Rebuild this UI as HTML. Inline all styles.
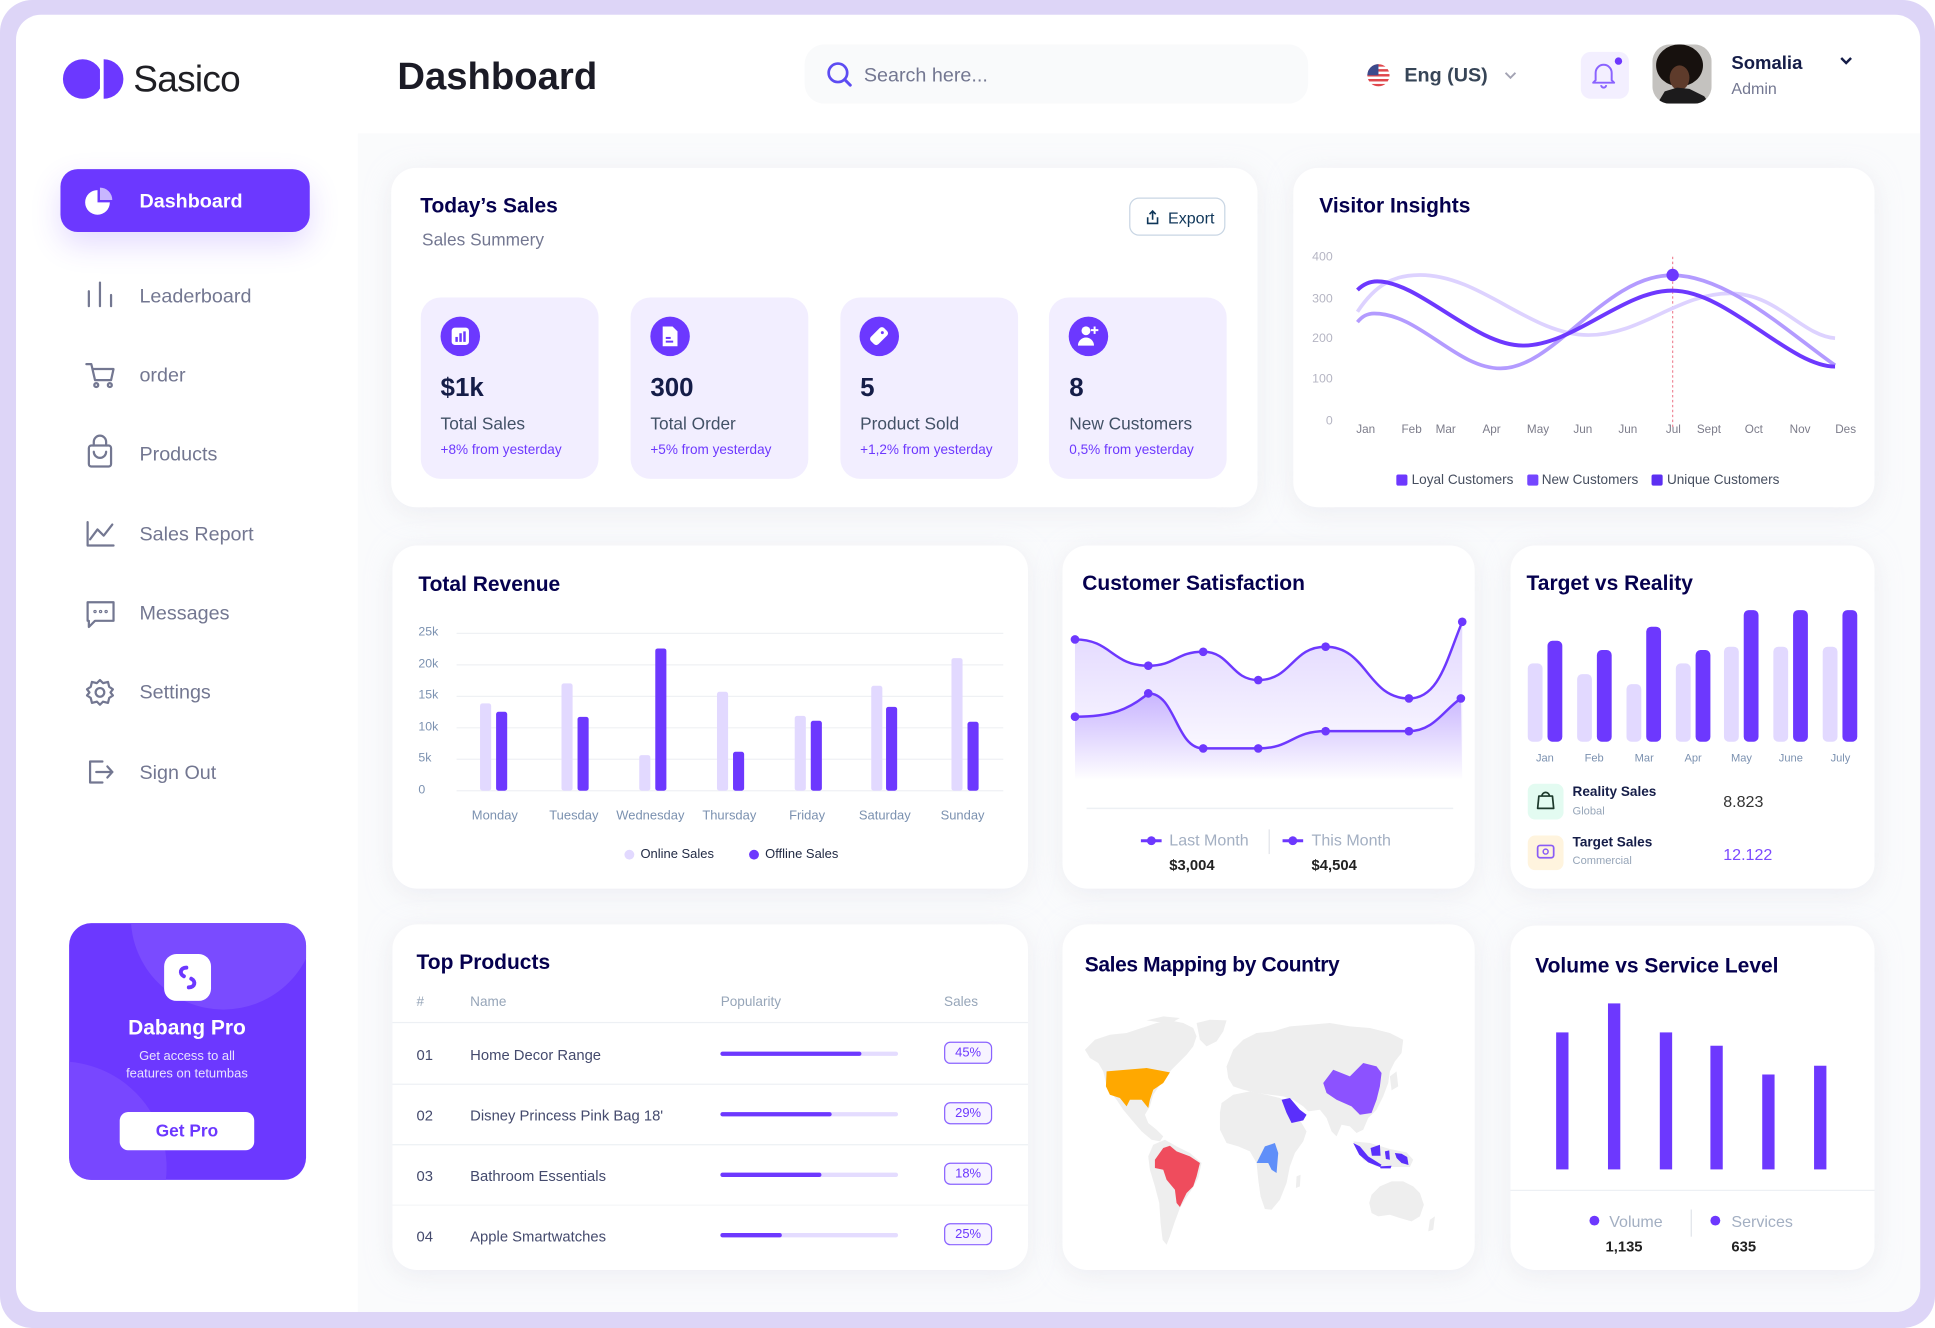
<!DOCTYPE html>
<html><head><meta charset="utf-8">
<style>
html,body{margin:0;padding:0;background:#fff;width:1935px;height:1328px;overflow:hidden}
#s{position:absolute;left:0;top:0;width:1568px;height:1076px;transform:scale(1.234056,1.234201);transform-origin:0 0;font-family:"Liberation Sans",sans-serif}
.t{position:absolute;white-space:nowrap;line-height:1}
.c{transform:translateX(-50%)}
.card{position:absolute;background:#fff;border-radius:20px;box-shadow:0 4px 20px rgba(225,225,235,.55)}
.h{font-size:17px;font-weight:bold;color:#05004E}
.nav{font-size:16px;color:#737791}
.mc{position:absolute;background:#f2eeff;border-radius:16px;width:144px;height:147px;top:240.5px}
.v{font-size:21px;font-weight:bold;color:#151D48}
.l{font-size:14px;color:#425166}
.sb{font-size:11px;color:#6d38fe}
.yl{font-size:10px;color:#b5b5c3;text-align:right;width:30px}
.xl{font-size:9.5px;color:#7c7c8a}
.rl{font-size:10px;color:#7b91b0}
.rx{font-size:10.5px;color:#7b91b0}
.pr{font-size:12px;color:#444a6d}
.ph{font-size:11px;color:#96a5b8}
.badge{position:absolute;left:765px;width:37px;height:16px;border:1.5px solid #8a63ff;border-radius:5px;background:#f7f4ff;color:#6d38fe;font-size:10.5px;line-height:16px;text-align:center}
</style></head><body>
<div id="s">
<!-- frame -->
<div style="position:absolute;left:0;top:0;width:1568px;height:1076px;background:#ddd5f7;border-radius:26px"></div>
<div style="position:absolute;left:13px;top:12px;width:1543px;height:1051px;background:#fff;border-radius:20px;overflow:hidden">
  <div style="position:absolute;left:277px;top:96px;width:1266px;height:955px;background:#fafbfc"></div>
</div>

<!-- logo -->
<svg style="position:absolute;left:0;top:0" width="1568" height="1076">
  <defs><clipPath id="lc"><rect x="40" y="40" width="41" height="50"/></clipPath></defs>
  <circle cx="67" cy="64" r="16" fill="#6c38ff" clip-path="url(#lc)"/>
  <path d="M84,48 A16,16 0 0 1 84,80 Z" fill="#6c38ff"/>
</svg>
<div class="t" style="left:108px;top:49.5px;font-size:30px;color:#1f1f24;letter-spacing:-0.6px">Sasico</div>
<div class="t" style="left:322px;top:45.5px;font-size:31px;font-weight:bold;color:#1b1b26">Dashboard</div>

<!-- search -->
<div style="position:absolute;left:652px;top:36px;width:408px;height:48px;background:#f9fafb;border-radius:16px"></div>
<svg style="position:absolute;left:668px;top:49px" width="26" height="26"><circle cx="11" cy="10" r="7.5" fill="none" stroke="#5d4cf2" stroke-width="2.2"/><line x1="16.5" y1="15.5" x2="21" y2="20" stroke="#5d4cf2" stroke-width="2.4" stroke-linecap="round"/></svg>
<div class="t" style="left:700px;top:53.5px;font-size:16px;color:#737791">Search here...</div>

<!-- lang -->
<svg style="position:absolute;left:1107px;top:51px" width="20" height="20">
  <defs><clipPath id="fc"><circle cx="10" cy="10" r="9"/></clipPath></defs>
  <g clip-path="url(#fc)">
    <rect x="0" y="0" width="20" height="20" fill="#fff"/>
    <rect x="0" y="1" width="20" height="2" fill="#e0474c"/><rect x="0" y="5" width="20" height="2" fill="#e0474c"/>
    <rect x="0" y="9" width="20" height="2" fill="#e0474c"/><rect x="0" y="13" width="20" height="2" fill="#e0474c"/>
    <rect x="0" y="17" width="20" height="2" fill="#e0474c"/>
    <rect x="0" y="0" width="10" height="10" fill="#3c4a8c"/>
  </g>
</svg>
<div class="t" style="left:1138px;top:53.5px;font-size:16px;font-weight:bold;color:#374557">Eng (US)</div>
<svg style="position:absolute;left:1218px;top:56px" width="12" height="10"><path d="M2,3 L6,7 L10,3" fill="none" stroke="#a3a3b3" stroke-width="1.5"/></svg>

<!-- bell -->
<div style="position:absolute;left:1281px;top:42px;width:39px;height:38px;background:#f3efff;border-radius:8px"></div>
<svg style="position:absolute;left:1288px;top:49px" width="24" height="24"><path d="M5,16 L5,10 A6.5,6.5 0 0 1 18,10 L18,16 L20,18 L3,18 Z" fill="none" stroke="#8a63ff" stroke-width="1.6" stroke-linejoin="round"/><path d="M9.5,20 A2,2 0 0 0 13.5,20" fill="none" stroke="#8a63ff" stroke-width="1.6"/></svg>
<svg style="position:absolute;left:1307px;top:45px" width="9" height="9"><circle cx="4.5" cy="4.5" r="3" fill="#6d38fe"/></svg>

<!-- avatar -->
<svg style="position:absolute;left:1339px;top:36px" width="48" height="48">
  <defs><clipPath id="ac"><rect x="0" y="0" width="48" height="48" rx="14"/></clipPath></defs>
  <g clip-path="url(#ac)">
    <rect width="48" height="48" fill="#c4c2bf"/>
    <ellipse cx="22" cy="17" rx="19" ry="17" fill="#17110e"/>
    <ellipse cx="22" cy="27" rx="8" ry="10" fill="#5e3b2b"/>
    <path d="M4,48 L10,38 L20,35 L30,36 L42,42 L46,48 Z" fill="#1c1b1c"/>
  </g>
</svg>
<div class="t" style="left:1403px;top:43.5px;font-size:15px;font-weight:bold;color:#151d48">Somalia</div>
<div class="t" style="left:1403px;top:64.7px;font-size:13px;color:#737791">Admin</div>
<svg style="position:absolute;left:1490px;top:44px" width="12" height="10"><path d="M2,3 L6,7 L10,3" fill="none" stroke="#151d48" stroke-width="2"/></svg>

<!-- sidebar -->
<div style="position:absolute;left:49px;top:137px;width:202px;height:51px;background:#6c38ff;border-radius:14px;box-shadow:0 10px 24px rgba(108,56,255,.18)"></div>
<svg style="position:absolute;left:66px;top:149px" width="28" height="28"><path d="M13,5 A10,10 0 1 0 23,15 L13,15 Z" fill="#fff"/><path d="M15,3 A10,10 0 0 1 25,13 L15,13 Z" fill="#c8b6ff"/></svg>
<div class="t" style="left:113px;top:155.5px;font-size:16px;font-weight:bold;color:#fff">Dashboard</div>

<svg style="position:absolute;left:0;top:0" width="290" height="700" fill="none" stroke="#737791" stroke-width="1.8" stroke-linecap="round" stroke-linejoin="round">
  <line x1="72" y1="236" x2="72" y2="248"/><line x1="81" y1="229" x2="81" y2="248"/><line x1="90" y1="239" x2="90" y2="248"/>
  <path d="M70,295 L74,295 L77,308 L90,308 L92,299 L75,299"/><circle cx="78" cy="312" r="1.6"/><circle cx="89" cy="312" r="1.6"/>
  <rect x="72" y="361" width="18" height="17" rx="2"/><path d="M76,361 L76,358 A5,5 0 0 1 86,358 L86,361"/><path d="M76,366 A5,5 0 0 0 86,366"/>
  <path d="M71,423 L71,442 L92,442"/><path d="M73,437 L79,429 L84,434 L91,425"/>
  <path d="M71,488 L92,488 L92,503 L77,503 L72,508 L72,503 L71,503 Z"/><circle cx="77" cy="495.5" r="0.5"/><circle cx="81.5" cy="495.5" r="0.5"/><circle cx="86" cy="495.5" r="0.5"/>
  <circle cx="81" cy="561" r="3.5"/><path d="M81,551 L83.5,553.5 L87.5,552.5 L88.5,556.5 L91.5,558.5 L89.5,561 L91.5,563.5 L88.5,565.5 L87.5,569.5 L83.5,568.5 L81,571 L78.5,568.5 L74.5,569.5 L73.5,565.5 L70.5,563.5 L72.5,561 L70.5,558.5 L73.5,556.5 L74.5,552.5 L78.5,553.5 Z"/>
  <path d="M83,617 L73,617 L73,634 L83,634"/><path d="M78,625.5 L91,625.5"/><path d="M87,621 L91,625.5 L87,630"/>
</svg>
<div class="t nav" style="left:113px;top:232.5px">Leaderboard</div>
<div class="t nav" style="left:113px;top:296.5px">order</div>
<div class="t nav" style="left:113px;top:361px">Products</div>
<div class="t nav" style="left:113px;top:425.5px">Sales Report</div>
<div class="t nav" style="left:113px;top:489.5px">Messages</div>
<div class="t nav" style="left:113px;top:554px">Settings</div>
<div class="t nav" style="left:113px;top:618.5px">Sign Out</div>

<!-- Dabang Pro -->
<div style="position:absolute;left:55.5px;top:748px;width:192px;height:208px;background:#6c38ff;border-radius:18px;overflow:hidden">
  <div style="position:absolute;left:50px;top:-80px;width:150px;height:150px;border-radius:50%;background:#7a4bff"></div>
  <div style="position:absolute;left:-93px;top:112px;width:172px;height:172px;border-radius:50%;background:#7847ff"></div>
  <div style="position:absolute;left:77px;top:25px;width:38px;height:38px;background:#fff;border-radius:10px"></div>
  <svg style="position:absolute;left:77px;top:25px" width="38" height="38"><path d="M18,11 C13,11 12,16 16,18" fill="none" stroke="#6c38ff" stroke-width="3.2" stroke-linecap="round"/><path d="M20,27 C25,27 26,22 22,20" fill="none" stroke="#6c38ff" stroke-width="3.2" stroke-linecap="round"/></svg>
  <div class="t" style="left:0;width:192px;text-align:center;top:75.5px;font-size:17px;font-weight:bold;color:#fff">Dabang Pro</div>
  <div class="t" style="left:0;width:192px;text-align:center;top:103px;font-size:10.5px;color:#e9e2ff">Get access to all</div>
  <div class="t" style="left:0;width:192px;text-align:center;top:116.5px;font-size:10.5px;color:#e9e2ff">features on tetumbas</div>
  <div style="position:absolute;left:41.5px;top:152.5px;width:109px;height:31px;background:#fff;border-radius:7px"></div>
  <div class="t" style="left:41.5px;width:109px;text-align:center;top:161px;font-size:14px;font-weight:bold;color:#6c38ff">Get Pro</div>
</div>

<!-- cards -->
<div class="card" style="left:317px;top:136px;width:702px;height:275px"></div>
<div class="card" style="left:1048px;top:136px;width:471px;height:275px"></div>
<div class="card" style="left:318px;top:442px;width:515px;height:278px"></div>
<div class="card" style="left:861px;top:442px;width:334px;height:278px"></div>
<div class="card" style="left:1224px;top:442px;width:295px;height:278px"></div>
<div class="card" style="left:318px;top:749px;width:515px;height:280px"></div>
<div class="card" style="left:861px;top:749px;width:334px;height:280px"></div>
<div class="card" style="left:1224px;top:750px;width:295px;height:279px"></div>

<!-- Today's sales -->
<div class="t h" style="left:340.5px;top:157.6px">Today’s Sales</div>
<div class="t" style="left:342px;top:186.7px;font-size:14px;color:#737791">Sales Summery</div>
<div style="position:absolute;left:915px;top:160px;width:78px;height:31px;border:1px solid #c9d6e4;border-radius:8px;box-sizing:border-box"></div>
<svg style="position:absolute;left:927px;top:169px" width="14" height="14"><path d="M3,7 L3,12 L11,12 L11,7" fill="none" stroke="#0f3659" stroke-width="1.3"/><path d="M7,9 L7,2 M4.5,4.5 L7,2 L9.5,4.5" fill="none" stroke="#0f3659" stroke-width="1.3"/></svg>
<div class="t" style="left:946.5px;top:169.5px;font-size:13px;color:#0f3659">Export</div>

<div class="mc" style="left:340.5px"></div>
<div class="mc" style="left:510.5px"></div>
<div class="mc" style="left:680.5px"></div>
<div class="mc" style="left:850px"></div>
<svg style="position:absolute;left:0;top:0" width="1568" height="420">
  <circle cx="373" cy="272.5" r="16" fill="#6c38ff"/><circle cx="543" cy="272.5" r="16" fill="#6c38ff"/>
  <circle cx="712.5" cy="272.5" r="16" fill="#6c38ff"/><circle cx="882" cy="272.5" r="16" fill="#6c38ff"/>
  <rect x="366" y="265.5" width="14" height="14" rx="2.5" fill="#fff"/>
  <rect x="369" y="273" width="2" height="4" fill="#6c38ff"/><rect x="372.2" y="270" width="2" height="7" fill="#6c38ff"/><rect x="375.4" y="268.5" width="2" height="8.5" fill="#6c38ff"/>
  <path d="M537,264.5 L545,264.5 L549,268.5 L549,280.5 L537,280.5 Z" fill="#fff"/>
  <rect x="539.5" y="273" width="4" height="1.6" fill="#6c38ff"/><rect x="539.5" y="276" width="6" height="1.6" fill="#6c38ff"/>
  <rect x="708" y="265" width="8.5" height="15" rx="2.5" fill="#fff" transform="rotate(45 712.5 272.5)"/><circle cx="715" cy="269.5" r="1.2" fill="#6c38ff"/>
  <circle cx="880" cy="268" r="3.6" fill="#fff"/><path d="M873.5,280 A6.5,6.5 0 0 1 886.5,280 Z" fill="#fff"/>
  <path d="M887,264.5 L887,270.5 M884,267.5 L890,267.5" stroke="#fff" stroke-width="1.6"/>
</svg>
<div class="t v" style="left:357px;top:304px">$1k</div>
<div class="t v" style="left:527px;top:304px">300</div>
<div class="t v" style="left:697px;top:304px">5</div>
<div class="t v" style="left:866.5px;top:304px">8</div>
<div class="t l" style="left:357px;top:336.2px">Total Sales</div>
<div class="t l" style="left:527px;top:336.2px">Total Order</div>
<div class="t l" style="left:697px;top:336.2px">Product Sold</div>
<div class="t l" style="left:866.5px;top:336.2px">New Customers</div>
<div class="t sb" style="left:357px;top:359.8px">+8% from yesterday</div>
<div class="t sb" style="left:527px;top:359.8px">+5% from yesterday</div>
<div class="t sb" style="left:697px;top:359.8px">+1,2% from yesterday</div>
<div class="t sb" style="left:866.5px;top:359.8px">0,5% from yesterday</div>

<!-- Visitor insights -->
<div class="t h" style="left:1069px;top:157.8px">Visitor Insights</div>
<div class="t yl" style="left:1050px;top:204.3px">400</div>
<div class="t yl" style="left:1050px;top:237.6px">300</div>
<div class="t yl" style="left:1050px;top:269.7px">200</div>
<div class="t yl" style="left:1050px;top:303.4px">100</div>
<div class="t yl" style="left:1050px;top:336.7px">0</div>
<div class="t xl c" style="left:1106.7px;top:344px">Jan</div>
<div class="t xl c" style="left:1143.9px;top:344px">Feb</div>
<div class="t xl c" style="left:1171.5px;top:344px">Mar</div>
<div class="t xl c" style="left:1208.7px;top:344px">Apr</div>
<div class="t xl c" style="left:1246.3px;top:344px">May</div>
<div class="t xl c" style="left:1282.6px;top:344px">Jun</div>
<div class="t xl c" style="left:1319.1px;top:344px">Jun</div>
<div class="t xl c" style="left:1356px;top:344px">Jul</div>
<div class="t xl c" style="left:1384.8px;top:344px">Sept</div>
<div class="t xl c" style="left:1421.2px;top:344px">Oct</div>
<div class="t xl c" style="left:1458.7px;top:344px">Nov</div>
<div class="t xl c" style="left:1495.6px;top:344px">Des</div>
<div class="t" style="left:1143.9px;top:383.5px;font-size:11px;color:#464e5f">Loyal Customers</div>
<div class="t" style="left:1249.3px;top:383.5px;font-size:11px;color:#464e5f">New Customers</div>
<div class="t" style="left:1350.8px;top:383.5px;font-size:11px;color:#464e5f">Unique Customers</div>

<!-- Total revenue -->
<div class="t h" style="left:339px;top:465px">Total Revenue</div>
<div class="t rl" style="left:339px;top:508px">25k</div>
<div class="t rl" style="left:339px;top:533.5px">20k</div>
<div class="t rl" style="left:339px;top:559px">15k</div>
<div class="t rl" style="left:339px;top:584.5px">10k</div>
<div class="t rl" style="left:339px;top:610px">5k</div>
<div class="t rl" style="left:339px;top:635.5px">0</div>
<div class="t rx c" style="left:401px;top:655.5px">Monday</div>
<div class="t rx c" style="left:465px;top:655.5px">Tuesday</div>
<div class="t rx c" style="left:527px;top:655.5px">Wednesday</div>
<div class="t rx c" style="left:591px;top:655.5px">Thursday</div>
<div class="t rx c" style="left:654px;top:655.5px">Friday</div>
<div class="t rx c" style="left:717px;top:655.5px">Saturday</div>
<div class="t rx c" style="left:780px;top:655.5px">Sunday</div>
<div class="t" style="left:519px;top:687.2px;font-size:10.5px;color:#222b45">Online Sales</div>
<div class="t" style="left:620px;top:687.2px;font-size:10.5px;color:#222b45">Offline Sales</div>

<!-- Customer satisfaction -->
<div class="t h" style="left:877px;top:464px">Customer Satisfaction</div>
<div class="t" style="left:947.5px;top:674.2px;font-size:13px;color:#a3afc2">Last Month</div>
<div class="t" style="left:1062.8px;top:674.2px;font-size:13px;color:#a3afc2">This Month</div>
<div class="t" style="left:947.5px;top:694.8px;font-size:12px;font-weight:bold;color:#222">$3,004</div>
<div class="t" style="left:1062.8px;top:694.8px;font-size:12px;font-weight:bold;color:#222">$4,504</div>

<!-- Target vs reality -->
<div class="t h" style="left:1237px;top:464px">Target vs Reality</div>
<div class="t c" style="left:1251.9px;top:610px;font-size:9px;color:#7b91b0">Jan</div>
<div class="t c" style="left:1291.8px;top:610px;font-size:9px;color:#7b91b0">Feb</div>
<div class="t c" style="left:1332.4px;top:610px;font-size:9px;color:#7b91b0">Mar</div>
<div class="t c" style="left:1372px;top:610px;font-size:9px;color:#7b91b0">Apr</div>
<div class="t c" style="left:1411.2px;top:610px;font-size:9px;color:#7b91b0">May</div>
<div class="t c" style="left:1451.2px;top:610px;font-size:9px;color:#7b91b0">June</div>
<div class="t c" style="left:1491.4px;top:610px;font-size:9px;color:#7b91b0">July</div>
<div style="position:absolute;left:1237.5px;top:635.3px;width:29px;height:28.5px;background:#e3fbf1;border-radius:6px"></div>
<div style="position:absolute;left:1237.5px;top:676.6px;width:29px;height:28px;background:#fff4de;border-radius:6px"></div>
<svg style="position:absolute;left:1237.5px;top:635.3px" width="29" height="70">
  <path d="M9,10 L20,10 L21,20 L8,20 Z" fill="none" stroke="#1d3a2c" stroke-width="1.4" stroke-linejoin="round"/><path d="M11.5,10 A3,3 0 0 1 17.5,10" fill="none" stroke="#1d3a2c" stroke-width="1.4"/>
  <rect x="8" y="50" width="13" height="10" rx="2" fill="none" stroke="#8a5cf6" stroke-width="1.4"/><circle cx="14.5" cy="55" r="2" fill="none" stroke="#8a5cf6" stroke-width="1.2"/>
</svg>
<div class="t" style="left:1274.3px;top:636.6px;font-size:11px;font-weight:bold;color:#151d48">Reality Sales</div>
<div class="t" style="left:1274.3px;top:652.5px;font-size:9px;color:#96a5b8">Global</div>
<div class="t" style="left:1396.4px;top:642.8px;font-size:13px;color:#333">8.823</div>
<div class="t" style="left:1274.3px;top:677.6px;font-size:11px;font-weight:bold;color:#151d48">Target Sales</div>
<div class="t" style="left:1274.3px;top:693px;font-size:9px;color:#96a5b8">Commercial</div>
<div class="t" style="left:1396.4px;top:685.5px;font-size:13px;color:#7b49ff">12.122</div>

<!-- Top products -->
<div class="t h" style="left:337.5px;top:771px">Top Products</div>
<div class="t ph" style="left:337.5px;top:807.3px">#</div>
<div class="t ph" style="left:381px;top:807.3px">Name</div>
<div class="t ph" style="left:584px;top:807.3px">Popularity</div>
<div class="t ph" style="left:765px;top:807.3px">Sales</div>
<div style="position:absolute;left:318px;top:828px;width:515px;height:1.2px;background:#edf0f4"></div>
<div style="position:absolute;left:318px;top:877.5px;width:515px;height:1.2px;background:#edf0f4"></div>
<div style="position:absolute;left:318px;top:926.5px;width:515px;height:1.2px;background:#edf0f4"></div>
<div style="position:absolute;left:318px;top:976px;width:515px;height:1px;background:#f5f6f8"></div>
<div class="t pr" style="left:337.5px;top:848.6px">01</div>
<div class="t pr" style="left:337.5px;top:897.8px">02</div>
<div class="t pr" style="left:337.5px;top:947px">03</div>
<div class="t pr" style="left:337.5px;top:995.8px">04</div>
<div class="t pr" style="left:381px;top:848.6px">Home Decor Range</div>
<div class="t pr" style="left:381px;top:897.8px">Disney Princess Pink Bag 18'</div>
<div class="t pr" style="left:381px;top:947px">Bathroom Essentials</div>
<div class="t pr" style="left:381px;top:995.8px">Apple Smartwatches</div>
<div class="badge" style="top:843.5px">45%</div>
<div class="badge" style="top:892.7px">29%</div>
<div class="badge" style="top:942px">18%</div>
<div class="badge" style="top:991px">25%</div>

<!-- Map -->
<div class="t h" style="left:879px;top:773px;letter-spacing:-0.3px">Sales Mapping by Country</div>
<svg style="position:absolute;left:867px;top:810.3px" width="324.1" height="218.8" viewBox="0 0 1200 810">
 <g fill="#eeeeee">
  <path d="M45,150 L75,120 L120,105 L170,100 L215,85 L260,70 L300,62 L340,70 L370,85 L380,110 L370,140 L350,165 L330,185 L305,210 L290,230 L270,255 L250,285 L240,320 L225,345 L235,370 L260,390 L280,410 L270,425 L245,420 L215,395 L185,360 L160,330 L140,300 L120,275 L108,250 L100,215 L85,190 L60,175 Z"/>
  <path d="M380,70 L420,60 L470,62 L460,95 L440,125 L410,140 L390,120 Z"/>
  <path d="M230,62 L280,50 L330,55 L300,72 Z"/>
  <path d="M250,435 L285,420 L320,440 L360,460 L395,490 L385,535 L365,570 L345,600 L330,625 L315,665 L300,710 L290,735 L278,720 L272,670 L268,610 L255,560 L240,510 L235,470 Z"/>
  <path d="M470,200 L490,150 L520,120 L560,100 L610,95 L660,80 L720,75 L780,70 L840,80 L900,85 L960,100 L1000,120 L995,160 L975,185 L960,215 L955,250 L940,290 L920,330 L895,355 L880,390 L860,400 L840,380 L815,375 L800,410 L785,395 L770,355 L750,330 L715,335 L700,320 L670,300 L640,290 L600,285 L560,280 L520,270 L490,260 L475,235 Z"/>
  <path d="M455,310 L490,285 L540,275 L590,285 L630,295 L665,320 L695,370 L710,395 L700,425 L675,460 L660,500 L650,550 L630,600 L605,630 L585,628 L572,590 L565,540 L560,490 L540,455 L505,440 L470,430 L450,390 L450,340 Z"/>
  <path d="M680,530 L692,525 L690,560 L678,565 Z"/>
  <path d="M905,585 L930,560 L965,545 L1000,545 L1030,560 L1050,580 L1062,615 L1050,650 L1025,665 L990,655 L960,645 L925,650 L905,640 L898,610 Z"/>
  <path d="M1080,660 L1095,650 L1090,690 L1075,695 Z"/>
  <path d="M850,425 L900,430 L960,448 L1010,458 L1030,480 L1020,502 L970,502 L920,500 L880,480 Z"/>
  <path d="M960,230 L980,215 L985,260 L965,272 Z"/>
 </g>
 <path fill="#ffa800" d="M110,215 L230,205 L300,218 L280,250 L250,270 L240,300 L235,325 L215,300 L180,300 L170,320 L150,295 L120,285 L108,260 Z"/>
 <path fill="#ef4c5d" d="M255,480 L280,445 L300,438 L320,455 L360,470 L390,490 L380,530 L370,560 L350,580 L340,600 L330,622 L320,610 L315,570 L290,540 L280,510 L255,505 Z"/>
 <path fill="#5f8ff9" d="M570,470 L585,440 L615,430 L625,460 L620,520 L605,510 L595,490 L560,490 Z"/>
 <path fill="#5a2ffb" d="M635,300 L660,295 L690,330 L710,345 L700,362 L665,370 L650,340 Z"/>
 <path fill="#8c52ff" d="M760,250 L790,210 L840,230 L880,190 L920,200 L935,220 L930,260 L920,300 L905,340 L870,345 L845,320 L800,300 L770,280 Z"/>
 <g fill="#5a2ffb">
  <path d="M850,430 L870,440 L895,470 L935,495 L930,502 L895,488 L868,465 Z"/>
  <path d="M902,445 L930,435 L932,468 L906,468 Z"/>
  <path d="M945,455 L958,452 L960,480 L948,478 Z"/>
  <path d="M975,460 L995,462 L1012,472 L1016,496 L995,490 L980,475 Z"/>
  <path d="M930,500 L965,498 L962,506 L932,506 Z"/>
 </g>
</svg>

<!-- Volume -->
<div class="t h" style="left:1244px;top:774px">Volume vs Service Level</div>
<div style="position:absolute;left:1224px;top:963.5px;width:295px;height:1.2px;background:#edf0f4"></div>
<div style="position:absolute;left:1370px;top:980px;width:1px;height:22px;background:#e1e4ea"></div>
<div class="t" style="left:1304px;top:982.5px;font-size:13px;color:#a3afc2">Volume</div>
<div class="t" style="left:1403px;top:982.5px;font-size:13px;color:#a3afc2">Services</div>
<div class="t c" style="left:1316px;top:1003.5px;font-size:12px;font-weight:bold;color:#222">1,135</div>
<div class="t c" style="left:1413px;top:1003.5px;font-size:12px;font-weight:bold;color:#222">635</div>

<!-- charts overlay -->
<svg style="position:absolute;left:0;top:0" width="1568" height="1076">
 <defs>
  <linearGradient id="gU" gradientUnits="userSpaceOnUse" x1="0" y1="505" x2="0" y2="632"><stop offset="0" stop-color="#6d38fe" stop-opacity="0.2"/><stop offset="1" stop-color="#6d38fe" stop-opacity="0"/></linearGradient>
  <linearGradient id="gL" gradientUnits="userSpaceOnUse" x1="0" y1="560" x2="0" y2="632"><stop offset="0" stop-color="#6d38fe" stop-opacity="0.3"/><stop offset="1" stop-color="#6d38fe" stop-opacity="0"/></linearGradient>
 </defs>
 <line x1="1355.4" y1="208" x2="1355.4" y2="346" stroke="#f08a9a" stroke-width="1" stroke-dasharray="2,2"/>
 <path d="M1100,252.6 C1115,230 1130,222.8 1150.7,222.8 C1200,222.8 1240,271.5 1287,271.5 C1330,271.5 1360,237.7 1401.8,237.7 C1440,237.7 1460,272 1487,274" fill="none" stroke="#ddd2ff" stroke-width="3"/>
 <path d="M1100,261 C1104,256 1108,254 1113.5,254 C1150,254 1180,298.5 1216,298.5 C1260,298.5 1300,223 1355,223 C1400,223 1450,270 1487,296" fill="none" stroke="#b39bff" stroke-width="3"/>
 <path d="M1100,235 C1105,230 1110,228 1116,228 C1150,228 1195,280 1234,280 C1275,280 1315,235.5 1355,235.5 C1400,235.5 1450,297 1487,297" fill="none" stroke="#6d38fe" stroke-width="3.2"/>
 <circle cx="1355.4" cy="222.8" r="5" fill="#6d38fe"/>
 <rect x="1131.5" y="384.5" width="9" height="9" rx="1.5" fill="#6d38fe"/>
 <rect x="1237.6" y="384.5" width="9" height="9" rx="1.5" fill="#7446ff"/>
 <rect x="1338.3" y="384.5" width="9" height="9" rx="1.5" fill="#5c2ff2"/>

 <g stroke="#eff1f4" stroke-width="1">
  <line x1="370" y1="513.2" x2="813" y2="513.2"/><line x1="370" y1="538.7" x2="813" y2="538.7"/>
  <line x1="370" y1="564.2" x2="813" y2="564.2"/><line x1="370" y1="589.7" x2="813" y2="589.7"/>
  <line x1="370" y1="615.2" x2="813" y2="615.2"/><line x1="370" y1="640.7" x2="813" y2="640.7"/>
 </g>
 <g fill="#e2d9ff">
  <rect x="389" y="569.9" width="9" height="70.8" rx="2"/><rect x="455" y="553.7" width="9" height="87" rx="2"/>
  <rect x="518" y="611.8" width="9" height="28.9" rx="2"/><rect x="581" y="560.5" width="9" height="80.2" rx="2"/>
  <rect x="644" y="580" width="9" height="60.7" rx="2"/><rect x="706" y="555.6" width="9" height="85.1" rx="2"/>
  <rect x="771" y="533.2" width="9" height="107.5" rx="2"/>
 </g>
 <g fill="#6d38fe">
  <rect x="402" y="576.7" width="9" height="64" rx="2"/><rect x="468" y="580.8" width="9" height="59.9" rx="2"/>
  <rect x="531" y="525.4" width="9" height="115.3" rx="2"/><rect x="594" y="609.1" width="9" height="31.6" rx="2"/>
  <rect x="657" y="584" width="9" height="56.7" rx="2"/><rect x="718" y="572.7" width="9" height="68" rx="2"/>
  <rect x="784" y="584.8" width="9" height="55.9" rx="2"/>
 </g>
 <circle cx="510" cy="692.5" r="4" fill="#e2d9ff"/><circle cx="611" cy="692.5" r="4" fill="#6d38fe"/>

 <path d="M871.1,518.1 C900.8,518.1 900.8,539.4 930.5,539.4 C952.8,539.4 952.8,528.1 975,528.1 C997.3,528.1 997.3,551 1019.6,551 C1046.9,551 1046.9,524 1074.2,524 C1108,524 1108,565.9 1141.7,565.9 C1166,565.9 1172,535 1184.9,503.8 L1184.9,632 L871.1,632 Z" fill="url(#gU)"/>
 <path d="M871.1,580.7 C900,580.7 915,575 930.5,561.8 C952.8,561.8 952.8,606.4 975,606.4 L1019.6,606.4 C1046.9,606.4 1046.9,592.4 1074.2,592.4 C1108,592.4 1108,592.4 1141.7,592.4 C1162,592.4 1170,575 1183.8,565.9 L1184.9,632 L871.1,632 Z" fill="url(#gL)"/>
 <path d="M871.1,518.1 C900.8,518.1 900.8,539.4 930.5,539.4 C952.8,539.4 952.8,528.1 975,528.1 C997.3,528.1 997.3,551 1019.6,551 C1046.9,551 1046.9,524 1074.2,524 C1108,524 1108,565.9 1141.7,565.9 C1166,565.9 1172,535 1184.9,503.8" fill="none" stroke="#6d38fe" stroke-width="2"/>
 <path d="M871.1,580.7 C900,580.7 915,575 930.5,561.8 C952.8,561.8 952.8,606.4 975,606.4 L1019.6,606.4 C1046.9,606.4 1046.9,592.4 1074.2,592.4 C1108,592.4 1108,592.4 1141.7,592.4 C1162,592.4 1170,575 1183.8,565.9" fill="none" stroke="#6d38fe" stroke-width="2"/>
 <g fill="#6d38fe">
  <circle cx="871.1" cy="518.1" r="3.5"/><circle cx="930.5" cy="539.4" r="3.5"/><circle cx="975" cy="528.1" r="3.5"/><circle cx="1019.6" cy="551" r="3.5"/><circle cx="1074.2" cy="524" r="3.5"/><circle cx="1141.7" cy="565.9" r="3.5"/><circle cx="1184.9" cy="503.8" r="3.5"/>
  <circle cx="871.1" cy="580.7" r="3.5"/><circle cx="930.5" cy="561.8" r="3.5"/><circle cx="975" cy="606.4" r="3.5"/><circle cx="1019.6" cy="606.4" r="3.5"/><circle cx="1074.2" cy="592.4" r="3.5"/><circle cx="1141.7" cy="592.4" r="3.5"/><circle cx="1183.8" cy="565.9" r="3.5"/>
 </g>
 <line x1="880.5" y1="655" x2="1177.6" y2="655" stroke="#edf0f4" stroke-width="1.2"/>
 <line x1="1028.5" y1="672" x2="1028.5" y2="692" stroke="#e1e4ea" stroke-width="1"/>
 <line x1="924.5" y1="681.2" x2="941.3" y2="681.2" stroke="#6d38fe" stroke-width="2.5"/><circle cx="933" cy="681.2" r="3.6" fill="#6d38fe"/>
 <line x1="1039.3" y1="681.2" x2="1056" y2="681.2" stroke="#6d38fe" stroke-width="2.5"/><circle cx="1047.6" cy="681.2" r="3.6" fill="#6d38fe"/>

 <g fill="#e2d9ff">
  <rect x="1238" y="537.5" width="12" height="63.5" rx="4"/><rect x="1278" y="546.2" width="12" height="54.8" rx="4"/>
  <rect x="1318" y="554.3" width="12" height="46.7" rx="4"/><rect x="1358" y="537.5" width="12" height="63.5" rx="4"/>
  <rect x="1397" y="524" width="12" height="77" rx="4"/><rect x="1437" y="524" width="12" height="77" rx="4"/>
  <rect x="1477" y="524" width="12" height="77" rx="4"/>
 </g>
 <g fill="#6d38fe">
  <rect x="1254" y="519.2" width="12" height="81.8" rx="4"/><rect x="1294" y="526.7" width="12" height="74.3" rx="4"/>
  <rect x="1334" y="507.8" width="12" height="93.2" rx="4"/><rect x="1374" y="526.7" width="12" height="74.3" rx="4"/>
  <rect x="1413" y="494.3" width="12" height="106.7" rx="4"/><rect x="1453" y="494.3" width="12" height="106.7" rx="4"/>
  <rect x="1493" y="494.3" width="12" height="106.7" rx="4"/>
 </g>

 <g stroke-linecap="round" stroke-width="3.5">
  <line x1="585.5" y1="853.8" x2="726" y2="853.8" stroke="#e4dcff"/><line x1="585.5" y1="853.8" x2="696.3" y2="853.8" stroke="#6d38fe"/>
  <line x1="585.5" y1="902.8" x2="726" y2="902.8" stroke="#e4dcff"/><line x1="585.5" y1="902.8" x2="672.2" y2="902.8" stroke="#6d38fe"/>
  <line x1="585.5" y1="951.9" x2="726" y2="951.9" stroke="#e4dcff"/><line x1="585.5" y1="951.9" x2="663.9" y2="951.9" stroke="#6d38fe"/>
  <line x1="585.5" y1="1000.8" x2="726" y2="1000.8" stroke="#e4dcff"/><line x1="585.5" y1="1000.8" x2="631.8" y2="1000.8" stroke="#6d38fe"/>
 </g>

 <g fill="#6d38fe">
  <rect x="1261" y="836.5" width="10" height="111"/><rect x="1303" y="813" width="10" height="134.5"/>
  <rect x="1345" y="836.5" width="10" height="111"/><rect x="1386" y="847.3" width="10" height="100.2"/>
  <rect x="1428" y="870.6" width="10" height="76.9"/><rect x="1470" y="863.5" width="10" height="84"/>
 </g>
 <circle cx="1292" cy="989" r="4" fill="#6d38fe"/><circle cx="1390" cy="989" r="4" fill="#6d38fe"/>
</svg>
</div>
</body></html>
